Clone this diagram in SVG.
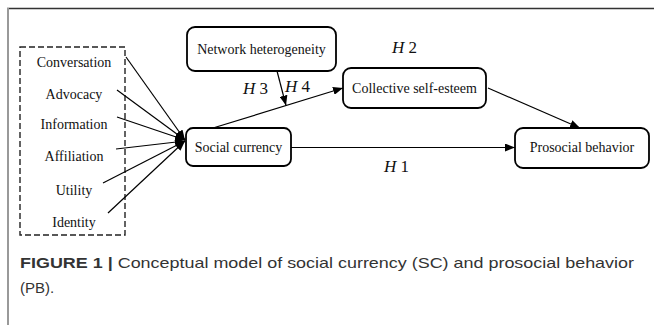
<svg xmlns="http://www.w3.org/2000/svg" width="654" height="325" viewBox="0 0 654 325">
<style>
.box{fill:#fff;stroke:#000;stroke-width:1.8}
.t{font-family:"Liberation Serif","Times New Roman",serif;font-size:14px;fill:#111}
.h{font-family:"Liberation Serif","Times New Roman",serif;font-size:17px;fill:#111}
.c{stroke:#000;stroke-width:1.2;fill:none}
.cap{font-family:"Liberation Sans",Arial,sans-serif;font-size:15px;fill:#333}
</style>
<defs>
<marker id="ah" viewBox="0 0 10 8" refX="10" refY="4" markerWidth="10" markerHeight="8" markerUnits="userSpaceOnUse" orient="auto">
<path d="M0,0 L10,4 L0,8 Z" fill="#000"/>
</marker>
</defs>
<rect width="654" height="325" fill="#fff"/>
<line x1="7" y1="8.5" x2="654" y2="8.5" stroke="#333" stroke-width="1.5"/>
<line x1="8" y1="8" x2="8" y2="325" stroke="#999" stroke-width="2"/>

<g id="inputs">
<rect x="20" y="47" width="105" height="188" fill="none" stroke="#222" stroke-width="1.4" stroke-dasharray="6,3"/>
<text class="t" x="74" y="67" text-anchor="middle">Conversation</text>
<text class="t" x="74" y="99" text-anchor="middle">Advocacy</text>
<text class="t" x="74" y="129" text-anchor="middle">Information</text>
<text class="t" x="74" y="161" text-anchor="middle">Affiliation</text>
<text class="t" x="74" y="195" text-anchor="middle">Utility</text>
<text class="t" x="74" y="227" text-anchor="middle">Identity</text>
</g>

<g id="network">
<rect class="box" x="187" y="27" width="149" height="44" rx="8"/>
<text class="t" x="261.5" y="54" text-anchor="middle">Network heterogeneity</text>
</g>
<g id="collective">
<rect class="box" x="343" y="68" width="143" height="40" rx="8"/>
<text class="t" x="414.5" y="93" text-anchor="middle">Collective self-esteem</text>
</g>
<g id="social">
<rect class="box" x="186" y="128" width="105" height="38" rx="7"/>
<text class="t" x="238.5" y="152" text-anchor="middle">Social currency</text>
</g>
<g id="prosocial">
<rect class="box" x="515" y="128" width="134" height="40" rx="8"/>
<text class="t" x="582" y="152" text-anchor="middle">Prosocial behavior</text>
</g>

<g id="connectors">
<line class="c" x1="126" y1="57" x2="185" y2="140" marker-end="url(#ah)"/>
<line class="c" x1="117" y1="90" x2="185" y2="140" marker-end="url(#ah)"/>
<line class="c" x1="117" y1="117" x2="185" y2="140" marker-end="url(#ah)"/>
<line class="c" x1="116" y1="149" x2="185" y2="141" marker-end="url(#ah)"/>
<line class="c" x1="103" y1="183" x2="185" y2="141" marker-end="url(#ah)"/>
<line class="c" x1="108" y1="213" x2="185" y2="141" marker-end="url(#ah)"/>
<line class="c" x1="291" y1="147.5" x2="515" y2="147.5" marker-end="url(#ah)"/>
<line class="c" x1="213" y1="128" x2="343" y2="88" marker-end="url(#ah)"/>
<line class="c" x1="277" y1="71" x2="286" y2="105.5" marker-end="url(#ah)"/>
<line class="c" x1="488" y1="88" x2="580" y2="128" marker-end="url(#ah)"/>
</g>

<g id="labels">
<text class="h" x="392" y="53"><tspan font-style="italic">H</tspan> 2</text>
<text class="h" x="243" y="94"><tspan font-style="italic">H</tspan> 3</text>
<text class="h" x="285" y="92"><tspan font-style="italic">H</tspan> 4</text>
<text class="h" x="384" y="172"><tspan font-style="italic">H</tspan> 1</text>
</g>

<g id="caption">
<text class="cap" x="20" y="268" textLength="614" lengthAdjust="spacingAndGlyphs"><tspan font-weight="bold">FIGURE 1 |</tspan> Conceptual model of social currency (SC) and prosocial behavior</text>
<text class="cap" x="20" y="293">(PB).</text>
</g>
</svg>
